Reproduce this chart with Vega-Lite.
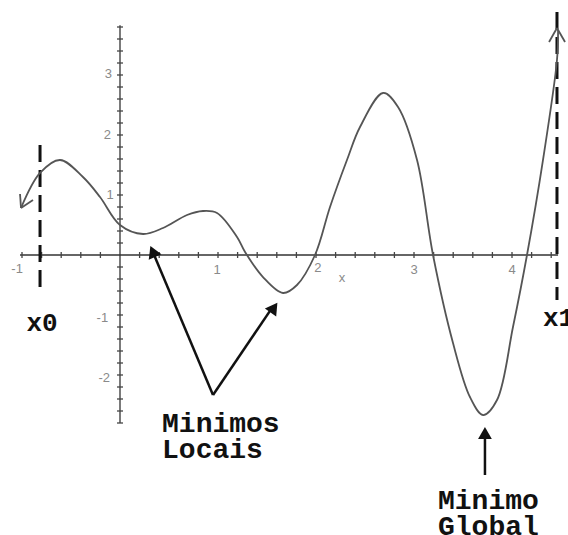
{
  "$schema": "https://vega.github.io/schema/vega-lite/v6.json",
  "width": 568,
  "height": 535,
  "padding": 0,
  "autosize": "none",
  "background": "white",
  "config": {"view": {"stroke": null}},
  "datasets": {
    "curve": [
      {"x": -1.010, "y": 0.783}, {"x": -0.816, "y": 1.367}, {"x": -0.612, "y": 1.583},
      {"x": -0.378, "y": 1.30}, {"x": -0.204, "y": 0.967}, {"x": 0.0, "y": 0.5},
      {"x": 0.235, "y": 0.35}, {"x": 0.439, "y": 0.45}, {"x": 0.684, "y": 0.667},
      {"x": 0.847, "y": 0.733}, {"x": 0.990, "y": 0.70}, {"x": 1.194, "y": 0.30},
      {"x": 1.276, "y": 0.05}, {"x": 1.459, "y": -0.367}, {"x": 1.663, "y": -0.633},
      {"x": 1.806, "y": -0.5}, {"x": 1.99, "y": 0.0}, {"x": 2.143, "y": 0.8},
      {"x": 2.316, "y": 1.583}, {"x": 2.449, "y": 2.133}, {"x": 2.684, "y": 2.70},
      {"x": 2.837, "y": 2.467}, {"x": 3.031, "y": 1.583}, {"x": 3.194, "y": 0.0},
      {"x": 3.398, "y": -1.467}, {"x": 3.571, "y": -2.367}, {"x": 3.704, "y": -2.667},
      {"x": 3.847, "y": -2.417}, {"x": 4.010, "y": -1.20}, {"x": 4.153, "y": 0.0},
      {"x": 4.316, "y": 1.583}, {"x": 4.459, "y": 3.25}, {"x": 4.47, "y": 3.75}
    ],
    "axes": [
      {"x": -1.02, "x2": 4.47, "y": 0, "y2": 0},
      {"x": 0, "x2": 0, "y": -2.8, "y2": 3.83}
    ],
    "heads": [
      {"x": -1.010, "y": 0.783, "x2": -1.020, "y2": 1.017},
      {"x": -1.010, "y": 0.783, "x2": -0.888, "y2": 0.917},
      {"x": 4.459, "y": 3.783, "x2": 4.378, "y2": 3.55},
      {"x": 4.459, "y": 3.783, "x2": 4.541, "y2": 3.55}
    ],
    "dashes": [
      {"x": -0.816, "y": 1.833, "y2": -0.667},
      {"x": 4.459, "y": 4.05, "y2": -0.75}
    ],
    "xticks": [
      {"x": -1, "y": 0}, {"x": -0.8, "y": 0}, {"x": -0.6, "y": 0}, {"x": -0.4, "y": 0}, {"x": -0.2, "y": 0},
      {"x": 0.2, "y": 0}, {"x": 0.4, "y": 0}, {"x": 0.6, "y": 0}, {"x": 0.8, "y": 0},
      {"x": 1, "y": 0}, {"x": 1.2, "y": 0}, {"x": 1.4, "y": 0}, {"x": 1.6, "y": 0}, {"x": 1.8, "y": 0},
      {"x": 2, "y": 0}, {"x": 2.2, "y": 0}, {"x": 2.4, "y": 0}, {"x": 2.6, "y": 0}, {"x": 2.8, "y": 0},
      {"x": 3, "y": 0}, {"x": 3.2, "y": 0}, {"x": 3.4, "y": 0}, {"x": 3.6, "y": 0}, {"x": 3.8, "y": 0},
      {"x": 4, "y": 0}, {"x": 4.2, "y": 0}, {"x": 4.4, "y": 0}
    ],
    "yticks": [
      {"x": 0, "y": -2.8}, {"x": 0, "y": -2.6}, {"x": 0, "y": -2.4}, {"x": 0, "y": -2.2},
      {"x": 0, "y": -2}, {"x": 0, "y": -1.8}, {"x": 0, "y": -1.6}, {"x": 0, "y": -1.4}, {"x": 0, "y": -1.2},
      {"x": 0, "y": -1}, {"x": 0, "y": -0.8}, {"x": 0, "y": -0.6}, {"x": 0, "y": -0.4}, {"x": 0, "y": -0.2},
      {"x": 0, "y": 0.2}, {"x": 0, "y": 0.4}, {"x": 0, "y": 0.6}, {"x": 0, "y": 0.8},
      {"x": 0, "y": 1}, {"x": 0, "y": 1.2}, {"x": 0, "y": 1.4}, {"x": 0, "y": 1.6}, {"x": 0, "y": 1.8},
      {"x": 0, "y": 2}, {"x": 0, "y": 2.2}, {"x": 0, "y": 2.4}, {"x": 0, "y": 2.6}, {"x": 0, "y": 2.8},
      {"x": 0, "y": 3}, {"x": 0, "y": 3.2}, {"x": 0, "y": 3.4}, {"x": 0, "y": 3.6}, {"x": 0, "y": 3.8}
    ],
    "ticklabels": [
      {"x": -1.05, "y": -0.23, "t": "-1"},
      {"x": 0.99, "y": -0.25, "t": "1"},
      {"x": 2.02, "y": -0.22, "t": "2"},
      {"x": 3.0, "y": -0.25, "t": "3"},
      {"x": 4.0, "y": -0.25, "t": "4"},
      {"x": 2.265, "y": -0.38, "t": "x"},
      {"x": -0.12, "y": 3.02, "t": "3"},
      {"x": -0.13, "y": 2.0, "t": "2"},
      {"x": -0.10, "y": 1.0, "t": "1"},
      {"x": -0.18, "y": -1.05, "t": "-1"},
      {"x": -0.16, "y": -2.05, "t": "-2"}
    ],
    "arrows": [
      {"x": 0.949, "y": -2.333, "x2": 0.33, "y2": 0.07},
      {"x": 0.949, "y": -2.333, "x2": 1.56, "y2": -0.86},
      {"x": 3.724, "y": -3.667, "x2": 3.724, "y2": -2.95}
    ],
    "arrowheads": [
      {"x": 0.334, "y": 0.058, "a": 337},
      {"x": 1.571, "y": -0.878, "a": 35},
      {"x": 3.724, "y": -2.967, "a": 0}
    ],
    "bigtext": [
      {"x": 0.429, "y": -2.817, "t": "Minimos"},
      {"x": 0.429, "y": -3.25, "t": "Locais"},
      {"x": 3.245, "y": -4.1, "t": "Minimo"},
      {"x": 3.245, "y": -4.533, "t": "Global"}
    ],
    "x0label": [{"x": -0.796, "y": -1.133, "t": "x0"}],
    "x1label": [{"x": 4.316, "y": -1.05, "t": "x1"}]
  },
  "encoding": {
    "x": {"field": "x", "type": "quantitative", "scale": {"domain": [-1.2245, 4.5714], "nice": false, "zero": false}, "axis": null},
    "y": {"field": "y", "type": "quantitative", "scale": {"domain": [-4.6667, 4.25], "nice": false, "zero": false}, "axis": null}
  },
  "layer": [
    {
      "data": {"name": "axes"},
      "mark": {"type": "rule", "color": "#333", "strokeWidth": 1.3},
      "encoding": {"x2": {"field": "x2"}, "y2": {"field": "y2"}}
    },
    {
      "data": {"name": "xticks"},
      "mark": {"type": "point", "shape": "stroke", "angle": 90, "filled": false, "color": "#444", "strokeWidth": 1.3, "size": 36, "opacity": 1},
      "encoding": {}
    },
    {
      "data": {"name": "yticks"},
      "mark": {"type": "point", "shape": "stroke", "filled": false, "color": "#444", "strokeWidth": 1.3, "size": 36, "opacity": 1},
      "encoding": {}
    },
    {
      "data": {"name": "ticklabels"},
      "mark": {"type": "text", "color": "#8a8a8a", "fontSize": 13, "font": "Liberation Sans", "align": "center", "baseline": "middle"},
      "encoding": {"text": {"field": "t"}}
    },
    {
      "data": {"name": "dashes"},
      "mark": {"type": "rule", "color": "#111", "strokeWidth": 3, "strokeDash": [17, 8]},
      "encoding": {"y2": {"field": "y2"}}
    },
    {
      "data": {"name": "curve"},
      "mark": {"type": "line", "color": "#555", "strokeWidth": 1.8, "interpolate": "catmull-rom"},
      "encoding": {}
    },
    {
      "data": {"name": "heads"},
      "mark": {"type": "rule", "color": "#555", "strokeWidth": 1.8},
      "encoding": {"x2": {"field": "x2"}, "y2": {"field": "y2"}}
    },
    {
      "data": {"name": "arrows"},
      "mark": {"type": "rule", "color": "#111", "strokeWidth": 2.5},
      "encoding": {"x2": {"field": "x2"}, "y2": {"field": "y2"}}
    },
    {
      "data": {"name": "arrowheads"},
      "mark": {"type": "point", "shape": "triangle-up", "filled": true, "color": "#111", "size": 190, "opacity": 1},
      "encoding": {"angle": {"field": "a", "type": "quantitative", "scale": null}}
    },
    {
      "data": {"name": "bigtext"},
      "mark": {"type": "text", "color": "#111", "fontSize": 28, "font": "Liberation Mono", "fontWeight": "bold", "align": "left", "baseline": "middle"},
      "encoding": {"text": {"field": "t"}}
    },
    {
      "data": {"name": "x0label"},
      "mark": {"type": "text", "color": "#111", "fontSize": 26, "font": "Liberation Mono", "fontWeight": "bold", "align": "center", "baseline": "middle"},
      "encoding": {"text": {"field": "t"}}
    },
    {
      "data": {"name": "x1label"},
      "mark": {"type": "text", "color": "#111", "fontSize": 26, "font": "Liberation Mono", "fontWeight": "bold", "align": "left", "baseline": "middle"},
      "encoding": {"text": {"field": "t"}}
    }
  ]
}
